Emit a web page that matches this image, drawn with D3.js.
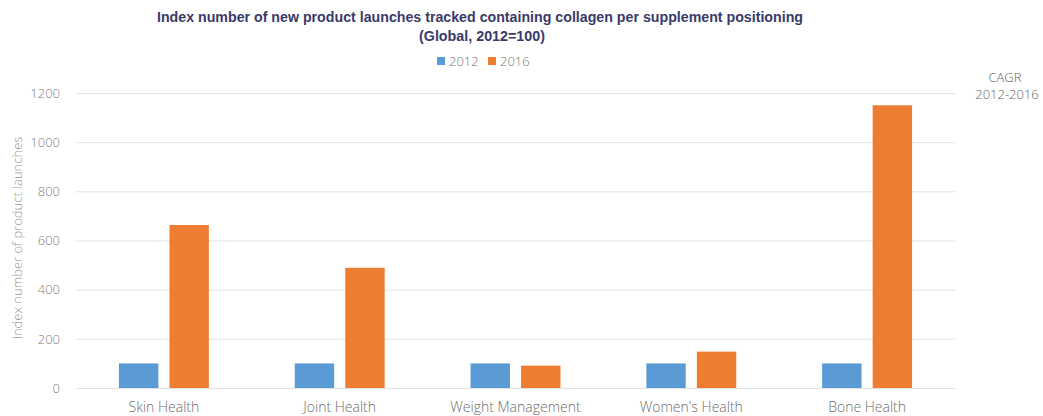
<!DOCTYPE html>
<html><head><meta charset="utf-8">
<script src="https://cdn.jsdelivr.net/npm/d3@7"></script>
<style>body{margin:0;background:#fff}svg{display:block}</style>
</head><body>
<svg id="c" width="1043" height="416"></svg>
<script>
const categories = ["Skin Health","Joint Health","Weight Management","Women's Health","Bone Health"];
const seriesNames = ["2012","2016"];
const values2012 = [100,100,100,100,100];
const values2016 = [663,489,91,148,1150];
const yTicks = [0,200,400,600,800,1000,1200];
const colors = ["#5b9bd5","#ed7d31"];

(function(){
const svg = d3.select("#c");
const mLeft = 76, mRight = 955, mTop = 93, mBottom = 388;

const x0 = d3.scaleBand().domain(categories).range([mLeft,mRight]).padding(0);
const x1 = d3.scaleBand().domain(seriesNames).range([0,x0.bandwidth()]).paddingInner(0.22).paddingOuter(0.85);
const y = d3.scaleLinear().domain([0,1200]).range([mBottom,mTop]);

const gAxis = svg.append("g").attr("transform",`translate(${mLeft},0)`)
  .call(d3.axisLeft(y).tickValues(yTicks).tickSize(-(mRight-mLeft)).tickPadding(16).tickFormat(d3.format("d")));
gAxis.select(".domain").remove();
gAxis.selectAll(".tick line").attr("stroke","#e3e3e3").attr("stroke-width",1);
gAxis.selectAll(".tick text").attr("fill","#808080").style("font-family","'Open Sans', sans-serif").style("font-size","13px").style("font-weight","300");

const data = categories.map((c,i)=>({cat:c, vals:[values2012[i],values2016[i]]}));
const groups = svg.append("g").selectAll("g").data(data).join("g")
  .attr("transform",d=>`translate(${x0(d.cat)},0)`);
groups.selectAll("rect").data(d=>d.vals.map((v,j)=>({s:seriesNames[j],v,j}))).join("rect")
  .attr("x",d=>x1(d.s)).attr("width",x1.bandwidth())
  .attr("y",d=>y(d.v)).attr("height",d=>y(0)-y(d.v))
  .attr("fill",d=>colors[d.j]);

const gx = svg.append("g").attr("transform",`translate(0,${mBottom})`)
  .call(d3.axisBottom(x0).tickSize(0).tickPadding(14));
gx.select(".domain").remove();
gx.selectAll(".tick text").attr("fill","#6e6e6e").style("font-family","'Open Sans', sans-serif").style("font-size","14px").style("font-weight","300");

svg.append("text").attr("transform","translate(22,238) rotate(-90)").attr("text-anchor","middle")
  .attr("fill","#999").style("font-family","'Open Sans', sans-serif").style("font-size","13px").style("font-weight","300")
  .text("Index number of product launches");

const tf = "'Liberation Sans Narrow','Arial Narrow','Liberation Sans',sans-serif";
svg.append("text").attr("x",157).attr("y",22).attr("textLength",646).attr("lengthAdjust","spacingAndGlyphs")
  .attr("fill","#3a3a6a").style("font-family",tf).style("font-weight","bold").style("font-size","14px")
  .text("Index number of new product launches tracked containing collagen per supplement positioning");
svg.append("text").attr("x",419).attr("y",41).attr("textLength",126).attr("lengthAdjust","spacingAndGlyphs")
  .attr("fill","#3a3a6a").style("font-family",tf).style("font-weight","bold").style("font-size","14px")
  .text("(Global, 2012=100)");

const leg = svg.append("g");
seriesNames.forEach((s,i)=>{
  const lx = 437 + i*51;
  leg.append("rect").attr("x",lx).attr("y",57).attr("width",8).attr("height",8).attr("fill",colors[i]);
  leg.append("text").attr("x",lx+12).attr("y",66).attr("fill","#777")
    .style("font-family","'Open Sans', sans-serif").style("font-size","13px").style("font-weight","300").text(s);
});

svg.append("text").attr("x",1005).attr("y",82).attr("text-anchor","middle").attr("fill","#666")
  .style("font-family","'Open Sans', sans-serif").style("font-size","13px").style("font-weight","300").text("CAGR");
svg.append("text").attr("x",1007).attr("y",99).attr("text-anchor","middle").attr("fill","#666")
  .style("font-family","'Open Sans', sans-serif").style("font-size","13px").style("font-weight","300").text("2012-2016");
})();
</script>
</body></html>
